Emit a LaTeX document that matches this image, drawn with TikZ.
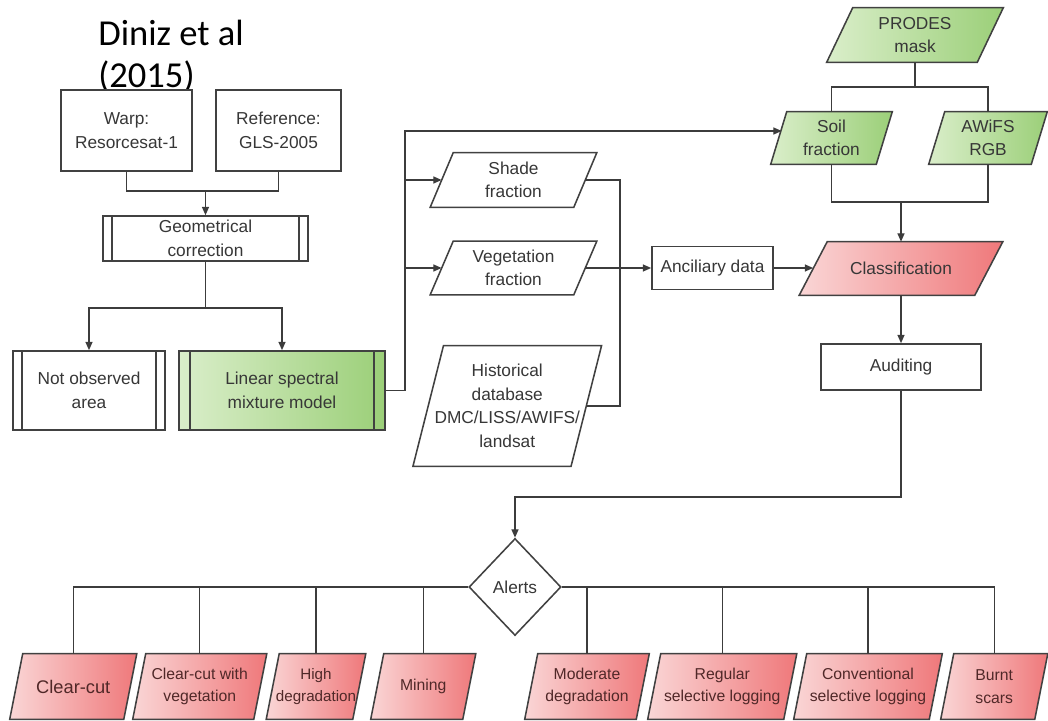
\documentclass[tikz,border=0pt]{standalone}
\usepackage{fontspec}
\setmainfont{Liberation Sans}
\newfontfamily\calib{Carlito}
\usetikzlibrary{arrows.meta,shapes.geometric,calc}
\pgfdeclarelayer{bg}
\pgfsetlayers{bg,main}
\definecolor{linec}{RGB}{60,60,60}
\definecolor{boxc}{RGB}{65,65,65}
\definecolor{txtc}{RGB}{55,55,55}
\definecolor{redtxt}{RGB}{80,40,40}
\definecolor{greenA}{RGB}{218,238,202}
\definecolor{greenB}{RGB}{155,207,120}
\definecolor{redA}{RGB}{250,214,214}
\definecolor{redB}{RGB}{239,120,122}
\newcommand{\paral}[3]{%
\begin{pgfonlayer}{bg}
\draw[boxline,#3] ($(#1.north west)+(#2/2,0)$) -- ($(#1.north east)+(#2/2,0)$) -- ($(#1.south east)-(#2/2,0)$) -- ($(#1.south west)-(#2/2,0)$) -- cycle;
\end{pgfonlayer}}
\newcommand{\procl}[2]{%
\draw[boxline] ($(#1.north west)+(#2,0)$) -- ($(#1.south west)+(#2,0)$);
\draw[boxline] ($(#1.north east)-(#2,0)$) -- ($(#1.south east)-(#2,0)$);}
\tikzset{
  boxline/.style={draw=boxc, line width=1.1pt, line join=miter},
  box/.style={boxline, fill=white, inner sep=0pt, align=center, text=txtc,
    font=\fontsize{12.3}{16.7}\selectfont},
  ptext/.style={inner sep=0pt, align=center, text=txtc,
    font=\fontsize{12.3}{16.7}\selectfont},
  btext/.style={inner sep=0pt, align=center, text=redtxt,
    font=\fontsize{11.2}{16}\selectfont, minimum height=1.625cm},
  conn/.style={draw=linec, line width=1pt},
  arr/.style={conn, -{Triangle[length=6pt,width=5pt]}},
  greenfill/.style={left color=greenA, right color=greenB},
  redfill/.style={left color=redA, right color=redB},
}
\begin{document}
\begin{tikzpicture}[x=0.025cm, y=-0.025cm]
\useasboundingbox (0,0) rectangle (1048,721);

% title
\node[anchor=base west, inner sep=0pt, align=left, font=\calib\fontsize{26}{30.5}\selectfont] (title) at (98,88) {Diniz et al\\(2015)};

% left part
\node[box, minimum width=3.275cm, minimum height=2.025cm] (warp) at (126.5,130.5) {Warp:\\Resorcesat-1};
\node[box, minimum width=3.125cm, minimum height=2.025cm] (ref) at (278.5,130.5) {Reference:\\GLS-2005};
\node[box, minimum width=5.125cm, minimum height=1.125cm] (geo) at (205.5,238.5) {Geometrical\\correction};
\procl{geo}{10}
\node[box, minimum width=3.8cm, minimum height=1.975cm] (notobs) at (89,390.5) {Not observed\\area};
\procl{notobs}{10}
\node[box, greenfill, minimum width=5.15cm, minimum height=1.975cm] (lsmm) at (282,390.5) {Linear spectral\\mixture model};
\procl{lsmm}{12}

% fractions
\node[ptext, minimum width=3.575cm, minimum height=1.35cm] (shade) at (513.5,180) {Shade\\fraction};
\paral{shade}{23}{fill=white}
\node[ptext, minimum width=3.575cm, minimum height=1.325cm] (veg) at (513.5,268) {Vegetation\\fraction};
\paral{veg}{23}{fill=white}
\node[ptext, minimum width=3.9375cm, minimum height=3.0cm] (hist) at (507.25,406) {Historical\\database\\DMC/LISS/AWIFS/\\landsat};
\paral{hist}{30.5}{fill=white}
\node[box, minimum width=3.025cm, minimum height=1.075cm] (anc) at (712.5,268) {Anciliary data};

% right part
\node[ptext, minimum width=3.75cm, minimum height=1.35cm] (prodes) at (915,35) {PRODES\\mask};
\paral{prodes}{26}{greenfill}
\node[ptext, minimum width=2.625cm, minimum height=1.3cm] (soil) at (831.5,138) {Soil\\fraction};
\paral{soil}{16}{greenfill}
\node[ptext, minimum width=2.55cm, minimum height=1.3cm] (awifs) at (988,138) {AWiFS\\RGB};
\paral{awifs}{16}{greenfill}
\node[ptext, minimum width=4.375cm, minimum height=1.325cm] (class) at (901,268.5) {Classification};
\paral{class}{28}{redfill}
\node[box, minimum width=4.0cm, minimum height=1.15cm] (aud) at (901,367) {Auditing};

% alerts
\node[diamond, boxline, fill=white, inner sep=0pt, minimum width=2.3cm, minimum height=2.425cm, text=txtc, font=\fontsize{12.3}{16.7}\selectfont] (alerts) at (515,587) {Alerts};

% bottom row
\node[btext, font=\fontsize{13}{16}\selectfont, minimum width=2.8375cm] (cc) at (73.25,686.5) {Clear-cut};
\paral{cc}{13}{redfill}
\node[btext, minimum width=3.0125cm] (ccv) at (199.75,686.5) {Clear-cut with\\vegetation};
\paral{ccv}{13}{redfill}
\node[btext, font=\fontsize{10.8}{16}\selectfont, minimum width=2.15cm] (high) at (316,686.5) {High\\degradation};
\paral{high}{13}{redfill}
\node[btext, minimum width=2.2875cm] (mining) at (423.25,686.5) {Mining};
\paral{mining}{13}{redfill}
\node[btext, minimum width=2.775cm] (moder) at (587,686.5) {Moderate\\degradation};
\paral{moder}{13}{redfill}
\node[btext, minimum width=3.3875cm] (regular) at (722.25,686.5) {Regular\\selective logging};
\paral{regular}{13}{redfill}
\node[btext, minimum width=3.375cm] (conv) at (868,686.5) {Conventional\\selective logging};
\paral{conv}{13}{redfill}
\node[btext, minimum width=2.3375cm] (burnt) at (994.25,686.5) {Burnt\\scars};
\paral{burnt}{13}{redfill}

% connector junctions
\coordinate (j1) at (205.5,191);
\coordinate (j2) at (205.5,308);
\coordinate (bus) at (405,131);
\coordinate (bus2) at (620,0);
\coordinate (j3) at (915,87);
\coordinate (j4) at (901,202);
\coordinate (j5) at (515,497);

% connectors
\draw[conn] (warp.south) |- (j1) -| (ref.south);
\draw[arr] (j1) -- (geo.north);
\draw[conn] (geo.south) -- (j2);
\draw[arr] (j2) -| (notobs.north);
\draw[arr] (j2) -| (lsmm.north);
\draw[arr] (lsmm.east) -| (bus) -- ($(soil.west)+(3,-7)$);
\draw[arr] (shade.west -| bus) -- (shade.west);
\draw[arr] (veg.west -| bus) -- (veg.west);
\draw[conn] (shade.east) -- (shade.east -| bus2) -- (hist.east -| bus2) -- (hist.east);
\draw[arr] (veg.east) -- (anc.west);
\draw[arr] (anc.east) -- (class.west |- anc.east);
\draw[conn] (prodes.south) -- (prodes.south |- j3);
\draw[conn] (soil.north) |- (j3) -| (awifs.north);
\draw[conn] (soil.south) |- (j4) -| (awifs.south);
\draw[arr] (j4) -- (class.north);
\draw[arr] (class.south) -- (aud.north);
\draw[arr] (aud.south) |- (j5) -- (alerts.north);
\draw[conn] (alerts.west) -| (cc.north);
\draw[conn] (ccv.north) -- (ccv.north |- alerts.west);
\draw[conn] (high.north) -- (high.north |- alerts.west);
\draw[conn] (mining.north) -- (mining.north |- alerts.west);
\draw[conn] (alerts.east) -| (burnt.north);
\draw[conn] (moder.north) -- (moder.north |- alerts.east);
\draw[conn] (regular.north) -- (regular.north |- alerts.east);
\draw[conn] (conv.north) -- (conv.north |- alerts.east);
\end{tikzpicture}
\end{document}
